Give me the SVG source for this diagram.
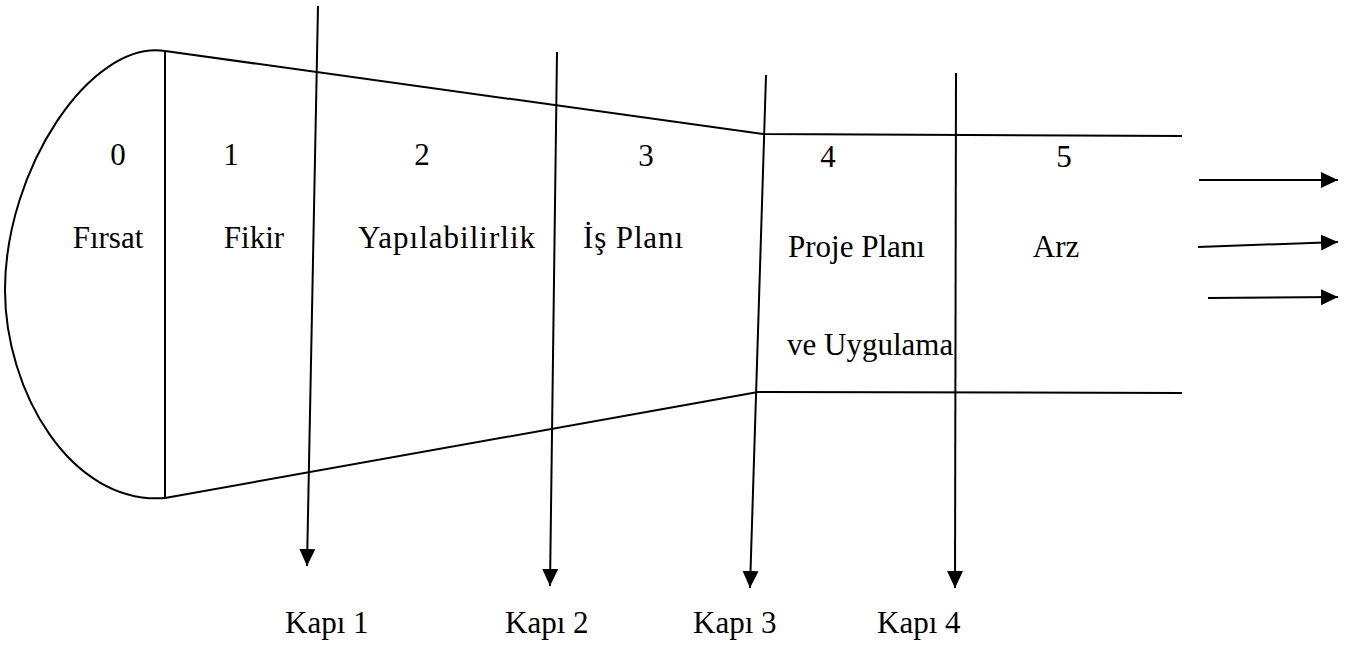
<svg xmlns="http://www.w3.org/2000/svg" width="1345" height="646" viewBox="0 0 1345 646">
<style>
  .ln{fill:none;stroke:#000;stroke-width:2}
  .ar{fill:none;stroke:#000;stroke-width:2;marker-end:url(#ah)}
  text{font-family:"Liberation Serif","Times New Roman",serif;font-size:31px;fill:#000}
  .c{text-anchor:middle}
</style>
<defs>
  <marker id="ah" markerUnits="userSpaceOnUse" markerWidth="18" markerHeight="18" refX="17" refY="8" orient="auto" viewBox="0 0 18 16">
    <path d="M0,0 L17,8 L0,16 z" fill="#000"/>
  </marker>
</defs>
<rect width="1345" height="646" fill="#fff"/>
<g id="funnel">
  <path class="ln" d="M165,51 C90,40 5,170 5,290 C5,390 70,505 165,498"/>
  <line class="ln" x1="165" y1="51" x2="165" y2="498"/>
  <polyline class="ln" points="165,51 763,134 1182,136"/>
  <polyline class="ln" points="165,498 758,392 1182,393"/>
</g>
<g id="connectors">
  <line class="ar" x1="318" y1="6" x2="307" y2="566"/>
  <line class="ar" x1="557" y1="52" x2="550" y2="586"/>
  <line class="ar" x1="766" y1="75" x2="750" y2="588"/>
  <line class="ar" x1="956" y1="73" x2="955" y2="588"/>
  <line class="ar" x1="1199" y1="180" x2="1338" y2="180"/>
  <line class="ar" x1="1198" y1="247" x2="1338" y2="242"/>
  <line class="ar" x1="1208" y1="298" x2="1338" y2="297"/>
</g>
<g id="stage0"><text class="c" x="118" y="165">0</text><text class="c" x="108" y="248">Fırsat</text></g>
<g id="stage1"><text class="c" x="231" y="165">1</text><text class="c" x="254" y="248">Fikir</text></g>
<g id="stage2"><text class="c" x="422" y="165">2</text><text x="358" y="248" textLength="177" lengthAdjust="spacing">Yapılabilirlik</text></g>
<g id="stage3"><text class="c" x="646" y="166">3</text><text x="583" y="248" textLength="100" lengthAdjust="spacing">İş Planı</text></g>
<g id="stage4"><text class="c" x="828" y="167">4</text><text x="788" y="257">Proje Planı</text><text x="787" y="355">ve Uygulama</text></g>
<g id="stage5"><text class="c" x="1064" y="167">5</text><text class="c" x="1056" y="257">Arz</text></g>
<g id="gate1"><text x="285" y="633">Kapı 1</text></g>
<g id="gate2"><text x="505" y="633">Kapı 2</text></g>
<g id="gate3"><text x="693" y="633">Kapı 3</text></g>
<g id="gate4"><text x="877" y="633">Kapı 4</text></g>
</svg>
